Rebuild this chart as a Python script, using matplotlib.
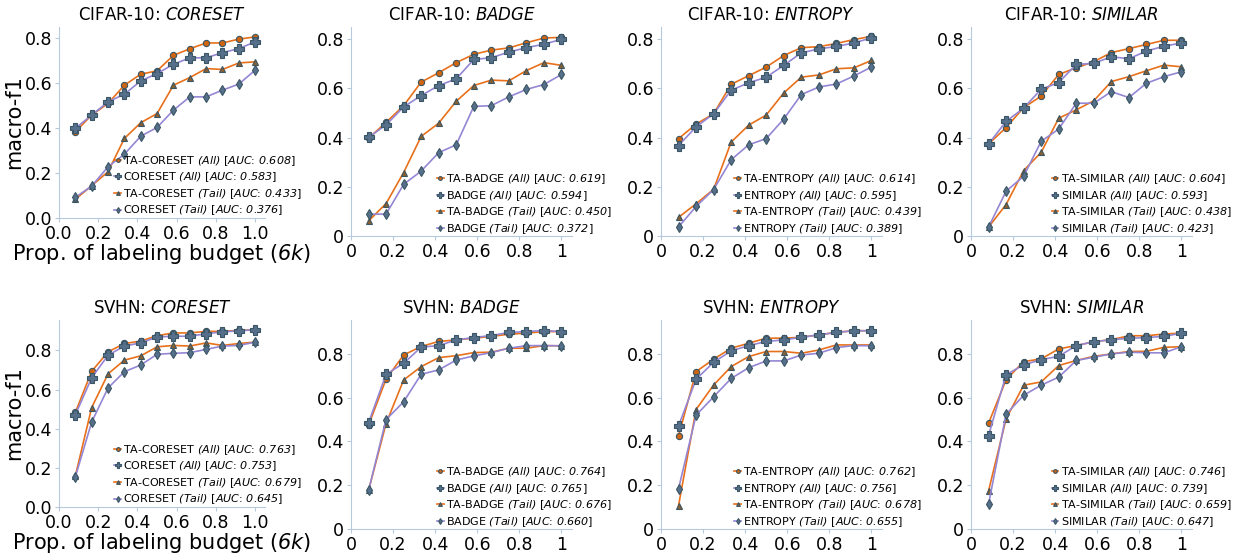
import numpy as np
import matplotlib
matplotlib.use("Agg")
import matplotlib.pyplot as plt
from matplotlib.ticker import FuncFormatter

# italic segments are written as \mathrm inside $...$ so digits/brackets slant too
plt.rcParams["mathtext.fontset"] = "custom"
plt.rcParams["mathtext.rm"] = "DejaVu Sans:italic"
plt.rcParams["mathtext.it"] = "DejaVu Sans:italic"

# budget proportions (12 rounds)
x_prop = [1/12, 2/12, 3/12, 4/12, 5/12, 6/12, 7/12, 8/12, 9/12, 10/12, 11/12, 1.0]

datasets = ["CIFAR-10", "SVHN"]
methods = ["CORESET", "BADGE", "ENTROPY", "SIMILAR"]

# CIFAR-10
c10_coreset_ta_all = [0.384, 0.458, 0.510, 0.591, 0.640, 0.655, 0.724, 0.753, 0.779, 0.779, 0.796, 0.806]
c10_coreset_all = [0.399, 0.458, 0.517, 0.551, 0.610, 0.643, 0.684, 0.713, 0.713, 0.736, 0.754, 0.784]
c10_coreset_ta_tail = [0.083, 0.144, 0.206, 0.354, 0.424, 0.465, 0.591, 0.625, 0.665, 0.661, 0.690, 0.695]
c10_coreset_tail = [0.092, 0.142, 0.228, 0.284, 0.364, 0.403, 0.480, 0.539, 0.539, 0.569, 0.596, 0.658]

c10_badge_ta_all = [0.398, 0.462, 0.530, 0.626, 0.664, 0.705, 0.739, 0.756, 0.765, 0.786, 0.805, 0.808]
c10_badge_all = [0.401, 0.452, 0.525, 0.571, 0.612, 0.639, 0.718, 0.725, 0.748, 0.766, 0.780, 0.800]
c10_badge_ta_tail = [0.061, 0.132, 0.258, 0.405, 0.459, 0.548, 0.612, 0.634, 0.631, 0.673, 0.705, 0.694]
c10_badge_tail = [0.089, 0.089, 0.210, 0.264, 0.339, 0.371, 0.527, 0.530, 0.566, 0.596, 0.616, 0.657]

c10_entropy_ta_all = [0.396, 0.455, 0.497, 0.617, 0.652, 0.687, 0.734, 0.766, 0.770, 0.783, 0.799, 0.812]
c10_entropy_all = [0.368, 0.444, 0.497, 0.593, 0.623, 0.646, 0.694, 0.745, 0.761, 0.771, 0.785, 0.806]
c10_entropy_ta_tail = [0.076, 0.131, 0.190, 0.382, 0.451, 0.492, 0.582, 0.646, 0.655, 0.680, 0.684, 0.714]
c10_entropy_tail = [0.037, 0.120, 0.189, 0.310, 0.371, 0.396, 0.476, 0.575, 0.606, 0.618, 0.651, 0.687]

c10_similar_ta_all = [0.374, 0.441, 0.522, 0.569, 0.657, 0.684, 0.709, 0.746, 0.762, 0.779, 0.796, 0.796]
c10_similar_all = [0.374, 0.466, 0.520, 0.597, 0.624, 0.698, 0.702, 0.729, 0.721, 0.752, 0.772, 0.785]
c10_similar_ta_tail = [0.036, 0.128, 0.266, 0.340, 0.479, 0.513, 0.550, 0.628, 0.648, 0.672, 0.695, 0.688]
c10_similar_tail = [0.036, 0.182, 0.243, 0.385, 0.435, 0.540, 0.540, 0.587, 0.563, 0.621, 0.648, 0.668]

# SVHN
svhn_coreset_ta_all = [0.483, 0.693, 0.792, 0.835, 0.847, 0.875, 0.889, 0.889, 0.897, 0.897, 0.902, 0.905]
svhn_coreset_all = [0.471, 0.660, 0.775, 0.822, 0.838, 0.868, 0.872, 0.872, 0.885, 0.894, 0.900, 0.905]
svhn_coreset_ta_tail = [0.159, 0.508, 0.680, 0.750, 0.772, 0.818, 0.825, 0.822, 0.838, 0.825, 0.835, 0.842]
svhn_coreset_tail = [0.154, 0.434, 0.608, 0.691, 0.725, 0.780, 0.785, 0.788, 0.805, 0.822, 0.825, 0.842]

svhn_badge_ta_all = [0.474, 0.685, 0.795, 0.834, 0.857, 0.864, 0.872, 0.880, 0.890, 0.895, 0.902, 0.902]
svhn_badge_all = [0.485, 0.707, 0.757, 0.831, 0.838, 0.864, 0.875, 0.884, 0.898, 0.902, 0.907, 0.902]
svhn_badge_ta_tail = [0.176, 0.482, 0.681, 0.742, 0.783, 0.792, 0.806, 0.808, 0.826, 0.826, 0.838, 0.837]
svhn_badge_tail = [0.176, 0.500, 0.581, 0.707, 0.727, 0.772, 0.791, 0.806, 0.826, 0.838, 0.838, 0.837]

svhn_entropy_ta_all = [0.425, 0.719, 0.776, 0.826, 0.849, 0.872, 0.872, 0.876, 0.887, 0.899, 0.906, 0.906]
svhn_entropy_all = [0.471, 0.684, 0.762, 0.814, 0.838, 0.857, 0.864, 0.876, 0.887, 0.898, 0.906, 0.906]
svhn_entropy_ta_tail = [0.107, 0.546, 0.658, 0.742, 0.788, 0.811, 0.811, 0.803, 0.818, 0.841, 0.841, 0.841]
svhn_entropy_tail = [0.184, 0.520, 0.604, 0.688, 0.737, 0.768, 0.768, 0.795, 0.803, 0.829, 0.838, 0.837]

svhn_similar_ta_all = [0.483, 0.682, 0.765, 0.777, 0.823, 0.838, 0.856, 0.865, 0.883, 0.883, 0.891, 0.895]
svhn_similar_all = [0.427, 0.705, 0.750, 0.774, 0.789, 0.838, 0.856, 0.865, 0.871, 0.875, 0.880, 0.895]
svhn_similar_ta_tail = [0.174, 0.503, 0.657, 0.672, 0.747, 0.770, 0.789, 0.800, 0.811, 0.812, 0.830, 0.833]
svhn_similar_tail = [0.113, 0.524, 0.611, 0.657, 0.694, 0.770, 0.785, 0.800, 0.808, 0.805, 0.805, 0.833]

# AUC values shown in legends: [TA all, base all, TA tail, base tail]
c10_auc = {
    "CORESET": [0.608, 0.583, 0.433, 0.376],
    "BADGE": [0.619, 0.594, 0.450, 0.372],
    "ENTROPY": [0.614, 0.595, 0.439, 0.389],
    "SIMILAR": [0.604, 0.593, 0.438, 0.423],
}
svhn_auc = {
    "CORESET": [0.763, 0.753, 0.679, 0.645],
    "BADGE": [0.764, 0.765, 0.676, 0.660],
    "ENTROPY": [0.762, 0.756, 0.678, 0.655],
    "SIMILAR": [0.746, 0.739, 0.659, 0.647],
}

curves = {
    ("CIFAR-10", "CORESET"): [c10_coreset_ta_all, c10_coreset_all, c10_coreset_ta_tail, c10_coreset_tail],
    ("CIFAR-10", "BADGE"): [c10_badge_ta_all, c10_badge_all, c10_badge_ta_tail, c10_badge_tail],
    ("CIFAR-10", "ENTROPY"): [c10_entropy_ta_all, c10_entropy_all, c10_entropy_ta_tail, c10_entropy_tail],
    ("CIFAR-10", "SIMILAR"): [c10_similar_ta_all, c10_similar_all, c10_similar_ta_tail, c10_similar_tail],
    ("SVHN", "CORESET"): [svhn_coreset_ta_all, svhn_coreset_all, svhn_coreset_ta_tail, svhn_coreset_tail],
    ("SVHN", "BADGE"): [svhn_badge_ta_all, svhn_badge_all, svhn_badge_ta_tail, svhn_badge_tail],
    ("SVHN", "ENTROPY"): [svhn_entropy_ta_all, svhn_entropy_all, svhn_entropy_ta_tail, svhn_entropy_tail],
    ("SVHN", "SIMILAR"): [svhn_similar_ta_all, svhn_similar_all, svhn_similar_ta_tail, svhn_similar_tail],
}
aucs = {"CIFAR-10": c10_auc, "SVHN": svhn_auc}

orange = "#e8701a"
purple = "#9486d4"
edge = "#3a5563"
spine_col = "#b9c9dd"
styles = [
    dict(color=orange, marker="o", mfc="#d0650f", ms=4.5),
    dict(color=purple, marker="P", mfc="#56708c", ms=6.5),
    dict(color=orange, marker="^", mfc="#8a6030", ms=4.5),
    dict(color=purple, marker="d", mfc="#56708c", ms=5),
]

W, H = 1244, 558
fig = plt.figure(figsize=(W / 100, H / 100), dpi=100)

lefts = [59, 351, 661, 971]


def px_axes(left, right, top, bottom):
    return fig.add_axes([left / W, 1 - bottom / H, (right - left) / W, (bottom - top) / H])


fmt_g = FuncFormatter(lambda v, p: "%g" % round(v, 2))


def it(s):
    return "$\\mathrm{%s}$" % s.replace(" ", "\\ ")


for r, ds in enumerate(datasets):
    top = 27 if r == 0 else 320
    for c, m in enumerate(methods):
        left = lefts[c]
        if c == 0:
            right, bottom = 265, (218 if r == 0 else 507)
        else:
            right, bottom = left + 221, (236 if r == 0 else 529)
        ax = px_axes(left, right, top, bottom)
        ys = curves[(ds, m)]
        a = aucs[ds][m]
        labels = [
            "TA-%s %s [%s:%s]" % (m, it("(All)"), it("AUC"), it(" %.3f" % a[0])),
            "%s %s [%s:%s]" % (m, it("(All)"), it("AUC"), it(" %.3f" % a[1])),
            "TA-%s %s [%s:%s]" % (m, it("(Tail)"), it("AUC"), it(" %.3f" % a[2])),
            "%s %s [%s:%s]" % (m, it("(Tail)"), it("AUC"), it(" %.3f" % a[3])),
        ]
        for y, st, lab in zip(ys, styles, labels):
            ax.plot(x_prop, y, lw=1.2, mec=edge, mew=0.8, label=lab, **st)

        ax.set_xlim(0, 1.05)
        ax.set_ylim(0, 0.85 if r == 0 else 0.955)
        ax.set_xticks([0, 0.2, 0.4, 0.6, 0.8, 1.0])
        ax.set_yticks([0, 0.2, 0.4, 0.6, 0.8])
        if c > 0:
            ax.xaxis.set_major_formatter(fmt_g)
            ax.yaxis.set_major_formatter(fmt_g)
        else:
            ax.set_ylabel("macro-f1", fontsize=15, labelpad=0)
            ax.set_xlabel("Prop. of labeling budget (%s)" % it("6k"), fontsize=15, labelpad=-1)
        ax.set_title("%s: %s" % (ds, it(m)), fontsize=12, pad=5)
        ax.tick_params(labelsize=12.5, length=3, color=spine_col, pad=2)
        for s in ["top", "right"]:
            ax.spines[s].set_visible(False)
        for s in ["left", "bottom"]:
            ax.spines[s].set_color(spine_col)
        ax.legend(loc="lower right", bbox_to_anchor=(1.2, -0.02), frameon=False,
                  fontsize=8, handlelength=0.6, handletextpad=0.2, labelspacing=0.25,
                  markerscale=0.6, borderaxespad=0)

fig.savefig("out.png", dpi=100)
